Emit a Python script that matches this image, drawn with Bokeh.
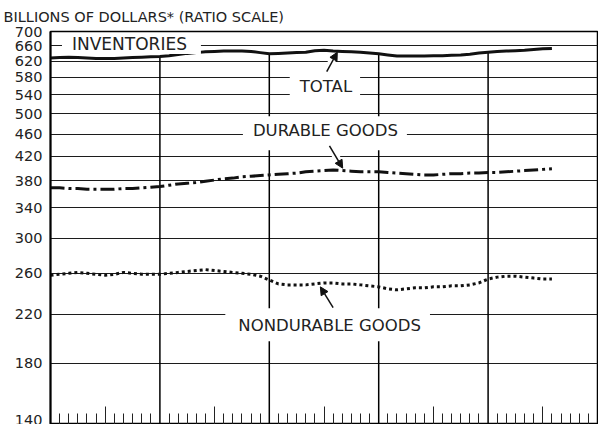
from bokeh.plotting import figure
from bokeh.models import (Range1d, FixedTicker, Label, Arrow, NormalHead,
                          ColumnDataSource, PrintfTickFormatter)
from bokeh.embed import file_html
from bokeh.resources import INLINE

# ---- data (billions of dollars, monthly) ----
months = list(range(56))
total = [628, 629, 630, 629, 628, 627, 627, 627, 628, 629, 630, 631,
         632, 634, 637, 640, 642, 644, 645, 646, 646, 646, 645, 642,
         639, 640, 641, 642, 643, 647, 648, 646, 645, 644, 643, 641,
         639, 636, 633, 633, 633, 633, 634, 634, 635, 636, 638, 641,
         643, 645, 646, 647, 648, 650, 652, 653]
durable = [369, 369, 368, 368, 367, 367, 367, 367, 368, 368, 369, 370,
           371, 373, 375, 376, 377, 379, 381, 383, 384, 386, 387, 388,
           389, 390, 391, 392, 394, 395, 396, 397, 396, 395, 394, 394,
           394, 393, 392, 391, 390, 389, 389, 390, 391, 391, 392, 392,
           393, 393, 394, 395, 396, 397, 398, 399]
nondurable = [258, 259, 260, 261, 260, 259, 258, 259, 261, 260, 259, 259,
              259, 260, 261, 262, 263, 264, 263, 262, 261, 260, 259, 257,
              253, 249, 248, 248, 248, 249, 250, 250, 249, 249, 248, 247,
              246, 244, 243, 244, 245, 245, 246, 246, 247, 247, 248, 250,
              254, 256, 257, 257, 256, 255, 254, 254]
y_ticks = [140, 180, 220, 260, 300, 340, 380, 420, 460, 500, 540, 580, 620, 660, 700]
year_marks = [12, 24, 36, 48]
mid_year = [6, 18, 30, 42, 54]
month_ticks = [m for m in range(1, 60) if m % 6 != 0]

FONT = "DejaVu Sans"
INK = "#222"

p = figure(width=598, height=424, x_range=Range1d(0, 60), y_range=Range1d(140, 700),
           y_axis_type="log", output_backend="svg", toolbar_location=None,
           min_border_left=50, min_border_right=1, min_border_top=30, min_border_bottom=0)

p.title.text = "BILLIONS OF DOLLARS* (RATIO SCALE)"
p.title.align = "left"
p.title.offset = -47
p.title.standoff = 13
p.title.text_font = FONT
p.title.text_font_size = "14.5px"
p.title.text_font_style = "normal"
p.title.text_color = INK

p.outline_line_color = "black"
p.outline_line_width = 1.5
p.background_fill_color = "white"

# y axis
p.yaxis.ticker = FixedTicker(ticks=y_ticks)
p.yaxis.formatter = PrintfTickFormatter(format="%d")
p.yaxis.major_tick_out = 0
p.yaxis.major_tick_in = 0
p.yaxis.minor_tick_out = 0
p.yaxis.minor_tick_in = 0
p.yaxis.axis_line_color = "black"
p.yaxis.axis_line_width = 2
p.yaxis.major_label_standoff = 8
p.yaxis.major_label_text_font = FONT
p.yaxis.major_label_text_font_size = "14.5px"
p.yaxis.major_label_text_color = INK

# x axis: month ticks only, no labels
p.xaxis.ticker = FixedTicker(ticks=mid_year, minor_ticks=month_ticks)
p.xaxis.major_label_overrides = {m: "" for m in mid_year}
p.xaxis.major_label_standoff = 0
p.xaxis.major_tick_out = 0
p.xaxis.major_tick_in = 18
p.xaxis.minor_tick_out = 0
p.xaxis.minor_tick_in = 11
p.xaxis.major_tick_line_color = INK
p.xaxis.minor_tick_line_color = INK
p.xaxis.axis_line_color = "black"

# grids
p.xgrid.visible = False
p.ygrid.ticker = FixedTicker(ticks=y_ticks)
p.ygrid.grid_line_color = "#1c1c1c"
p.ygrid.grid_line_width = 1

# year separators up to the total line
p.segment(x0=year_marks, y0=[y_ticks[0]] * len(year_marks), x1=year_marks,
          y1=[total[m] for m in year_marks], line_color="black", line_width=1.5)

src = ColumnDataSource(dict(m=months, total=total, durable=durable, nondurable=nondurable))
p.line("m", "total", source=src, line_color="#111", line_width=3)
p.line("m", "durable", source=src, line_color="#111", line_width=3, line_dash="14 4 3 4")
p.line("m", "nondurable", source=src, line_color="#111", line_width=3, line_dash="3 3")


def box_label(x, y, text, pad, size="16.5px"):
    p.add_layout(Label(x=x, y=y, text=text, text_align="center", text_baseline="middle",
                       text_font=FONT, text_font_size=size, text_color=INK,
                       background_fill_color="white", padding=pad))


box_label(8.88, 665, "INVENTORIES", dict(left=10, right=14, top=0, bottom=0), "17px")
box_label(30.1, 561, "TOTAL", dict(left=10, right=8, top=1, bottom=0))
box_label(30.1, 461.5, "DURABLE GOODS", dict(left=10, right=9, top=5, bottom=10))
box_label(30.4, 210.6, "NONDURABLE GOODS", dict(left=13, right=9, top=8, bottom=6))

# white gaps behind arrows where they cross grid lines
p.add_layout(Arrow(x_start=30.3, y_start=594, x_end=31.1, y_end=632, end=None,
                   line_color="white", line_width=7))
p.add_layout(Arrow(x_start=30.6, y_start=438, x_end=31.7, y_end=410, end=None,
                   line_color="white", line_width=7))

for xs, ys, xe, ye in [(30.3, 594, 31.46, 643), (30.6, 438, 32.05, 400), (31.0, 226, 29.6, 246)]:
    p.add_layout(Arrow(x_start=xs, y_start=ys, x_end=xe, y_end=ye, line_color="#111",
                       line_width=1.5,
                       end=NormalHead(size=8, fill_color="#111", line_color="#111", line_width=1)))

open("out.html", "w").write(file_html(p, INLINE))
